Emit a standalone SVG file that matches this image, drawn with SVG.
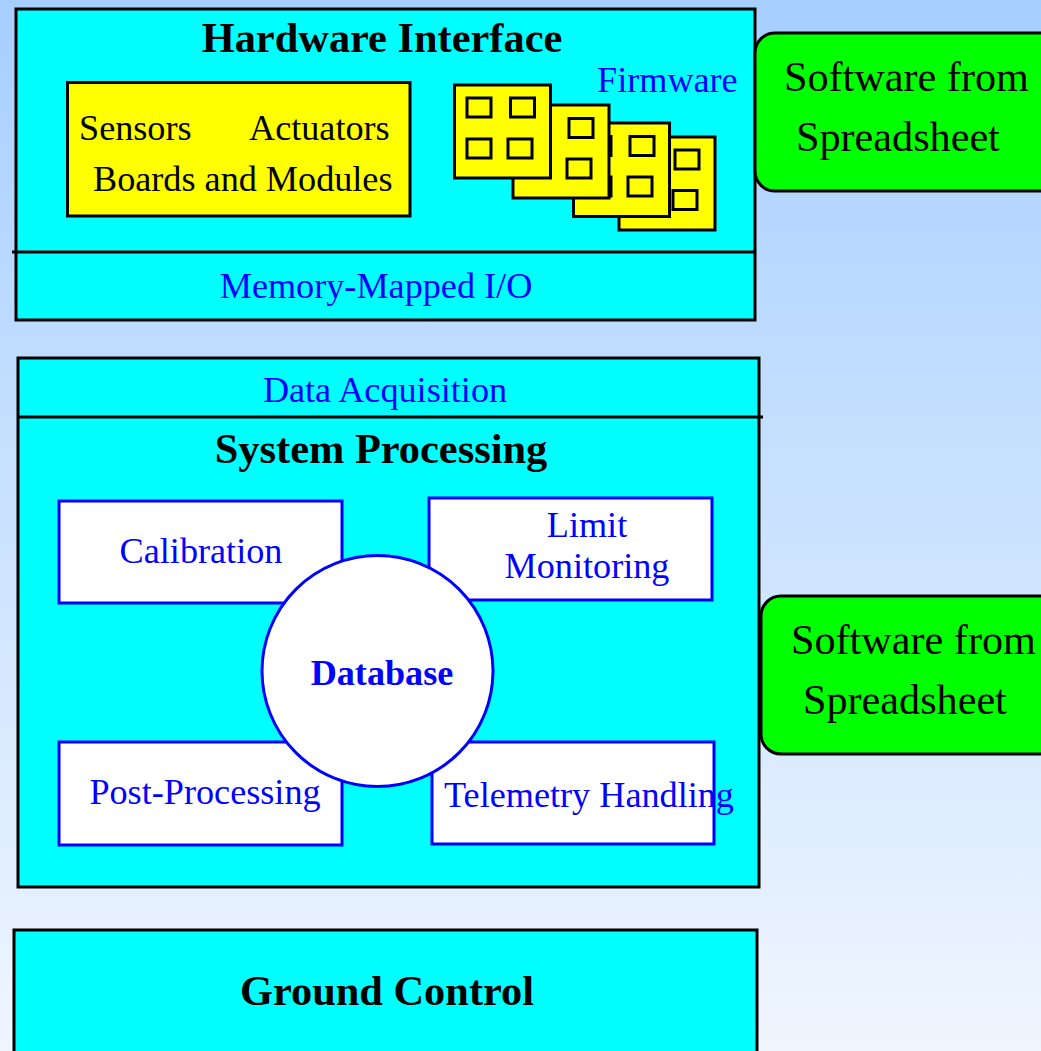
<svg xmlns="http://www.w3.org/2000/svg" width="1041" height="1051" viewBox="0 0 1041 1051">
<style>
text{font-family:"Liberation Serif","Times New Roman",serif}
.p{fill:#00ffff;stroke:#000;stroke-width:3}
.y{fill:#ffff00;stroke:#000;stroke-width:3}
.g{fill:#00ff00;stroke:#000;stroke-width:3}
.w{fill:#fff;stroke:#0000ff;stroke-width:3}
.l{stroke:#000;stroke-width:3;fill:none}
.h{font-size:42.4px;font-weight:bold;fill:#000}
.b{font-size:36.2px;fill:#0000ff}
.k{font-size:36.2px;fill:#000}
.s{font-size:42.2px;fill:#000}
</style>
<defs><linearGradient id="bg" x1="0" y1="0" x2="0" y2="1"><stop offset="0" stop-color="#a6cfff"/><stop offset="1" stop-color="#f0f6ff"/></linearGradient></defs>
<rect width="1041" height="1051" fill="url(#bg)"/>
<g id="hardware-interface">
<rect class="p" x="16" y="9" width="739" height="311"/>
<line class="l" x1="12" y1="252" x2="755" y2="252"/>
<text class="h" x="382" y="52" text-anchor="middle">Hardware Interface</text>
<text class="b" x="597" y="92">Firmware</text>
<text class="b" x="376" y="298" text-anchor="middle">Memory-Mapped I/O</text>
</g>
<g id="sensors-box">
<rect class="y" x="67.500" y="82.500" width="342.500" height="133.500"/>
<text class="k" x="79" y="140">Sensors</text>
<text class="k" x="249" y="140">Actuators</text>
<text class="k" x="93" y="191">Boards and Modules</text>
</g>
<g id="firmware-boards">
<rect class="y" x="619" y="137" width="96" height="93"/>
<rect class="y" x="675" y="150" width="24" height="19"/><rect class="y" x="673" y="190.500" width="24" height="19"/>
<rect class="y" x="573.500" y="123" width="96" height="93.500"/>
<rect class="y" x="587" y="136.500" width="24" height="19"/><rect class="y" x="587" y="177" width="24" height="19"/>
<rect class="y" x="630" y="136.500" width="24" height="19"/><rect class="y" x="628" y="177" width="24" height="19"/>
<rect class="y" x="513" y="105" width="96" height="93"/>
<rect class="y" x="569" y="118.500" width="24" height="19"/><rect class="y" x="567" y="159" width="24" height="19"/>
<rect class="y" x="454.500" y="85" width="96" height="93"/>
<rect class="y" x="467" y="98" width="24" height="19"/><rect class="y" x="510.500" y="98" width="24" height="19"/>
<rect class="y" x="467" y="139" width="24" height="19"/><rect class="y" x="508" y="139" width="24" height="19"/>
</g>
<g id="software-1">
<rect class="g" x="755" y="33" width="320" height="158" rx="20"/>
<text class="s" x="784" y="91">Software from</text>
<text class="s" x="796" y="151">Spreadsheet</text>
</g>
<g id="system-processing">
<rect class="p" x="18" y="358" width="741" height="529"/>
<line class="l" x1="18" y1="417" x2="763" y2="417"/>
<text class="b" x="385" y="402" text-anchor="middle">Data Acquisition</text>
<text class="h" x="381" y="463" text-anchor="middle">System Processing</text>
</g>
<g id="calibration"><rect class="w" x="59" y="501" width="283" height="102"/><text class="b" x="201" y="563" text-anchor="middle">Calibration</text></g>
<g id="limit-monitoring"><rect class="w" x="429" y="498" width="283" height="102"/><text class="b" x="587" y="537" text-anchor="middle">Limit</text><text class="b" x="587" y="578" text-anchor="middle">Monitoring</text></g>
<g id="post-processing"><rect class="w" x="59" y="742" width="283" height="103"/><text class="b" x="205" y="804" text-anchor="middle">Post-Processing</text></g>
<g id="telemetry-handling"><rect class="w" x="432" y="742" width="282" height="102"/><text class="b" x="589" y="807" text-anchor="middle">Telemetry Handling</text></g>
<g id="database"><circle class="w" cx="377.500" cy="671" r="115.500"/><text x="382" y="685" text-anchor="middle" font-size="36.200" font-weight="bold" fill="#0000ff">Database</text></g>
<g id="software-2">
<rect class="g" x="761" y="596" width="320" height="158" rx="20"/>
<text class="s" x="791" y="654">Software from</text>
<text class="s" x="803" y="714">Spreadsheet</text>
</g>
<g id="ground-control">
<rect class="p" x="14" y="930" width="743" height="140"/>
<text class="h" x="387" y="1005" text-anchor="middle">Ground Control</text>
</g>
<g id="connectors"/>
</svg>
